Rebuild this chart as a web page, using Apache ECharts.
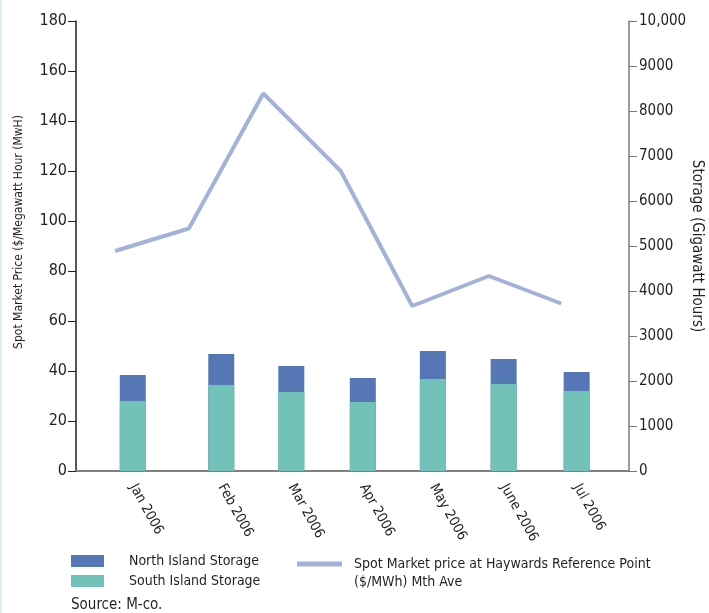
<!DOCTYPE html>
<html>
<head>
<meta charset="utf-8">
<script src="https://cdn.jsdelivr.net/npm/echarts@6/dist/echarts.min.js"></script>
<style>
  html, body { margin: 0; padding: 0; background: #fff; }
  #chart { width: 709px; height: 613px; }
</style>
</head>
<body>
<div id="chart"></div>
<script>
// months and where each sits along the (month-position) x axis
const months = ['Jan 2006', 'Feb 2006', 'Mar 2006', 'Apr 2006', 'May 2006', 'June 2006', 'Jul 2006'];
const barPos = [0.77, 1.97, 2.92, 3.89, 4.84, 5.80, 6.79];
const linePos = [0.53, 1.53, 2.54, 3.59, 4.56, 5.60, 6.58];

// storage, GWh (right axis)
const southStorage = [1556, 1911, 1756, 1533, 2044, 1933, 1778];
const northStorage = [577, 689, 577, 534, 623, 556, 422];

// spot price, $/MWh (left axis)
const spotPrice = [88, 97, 151, 120, 66, 78, 67];

const font = '"DejaVu Sans Condensed", "Liberation Sans Narrow", sans-serif';
const ink = '#231f20';

// bars on a value axis don't stack, so the north bar is drawn as the total
// and the south bar is laid over its lower part
const totalStorage = southStorage.map((s, i) => s + northStorage[i]);

let myChart = echarts.init(document.getElementById('chart'));
let option = {
    animation: false,
    textStyle: { fontFamily: font, color: ink },
    grid: { left: 76, right: 80, top: 21, bottom: 142, outerBoundsMode: 'none', containLabel: false },
    legend: [
        {
            orient: 'vertical',
            left: 66, top: 549,
            itemWidth: 33, itemHeight: 12, itemGap: 6,
            icon: 'rect',
            textStyle: { fontFamily: font, fontSize: 14, color: ink, padding: [0, 0, 0, 20] },
            data: ['North Island Storage', 'South Island Storage']
        },
        {
            left: 292, top: 552,
            itemWidth: 45, itemHeight: 5,
            icon: 'rect',
            textStyle: { fontFamily: font, fontSize: 14, color: ink, padding: [0, 0, 0, 7] },
            data: ['Spot Market price at Haywards Reference Point']
        }
    ],
    graphic: [
        { type: 'rect', left: 0, top: 0, shape: { width: 2, height: 613 }, style: { fill: '#dceef9' } },
        { type: 'text', left: 354, top: 575, style: { text: '($/MWh) Mth Ave', fontFamily: font, fontSize: 14, fill: ink } },
        { type: 'text', left: 71, top: 598, style: { text: 'Source: M-co.', fontFamily: font, fontSize: 15, fill: ink } }
    ],
    xAxis: {
        type: 'value',
        min: 0,
        max: 7.5,
        splitLine: { show: false },
        axisTick: { show: false },
        axisLine: { onZero: false, lineStyle: { color: '#808080', width: 2 } },
        axisLabel: {
            customValues: barPos,
            formatter: function (v) {
                let i = barPos.indexOf(v);
                return i >= 0 ? months[i] : '';
            },
            rotate: -61,
            margin: 14,
            fontSize: 14,
            color: ink,
            fontFamily: font
        }
    },
    yAxis: [
        {
            type: 'value',
            min: 0, max: 180, interval: 20,
            name: 'Spot Market Price ($/Megawatt Hour (MwH)',
            nameLocation: 'middle',
            nameGap: 51,
            nameRotate: 90,
            nameTextStyle: { fontFamily: font, fontSize: 12, color: ink, padding: [0, 0, 0, 28] },
            splitLine: { show: false },
            axisLine: { show: true, lineStyle: { color: ink, width: 1.5 } },
            axisTick: { show: true, length: 8, lineStyle: { color: ink } },
            axisLabel: { fontSize: 16, color: ink, margin: 9, fontFamily: font }
        },
        {
            type: 'value',
            position: 'right',
            min: 0, max: 10000, interval: 1000,
            name: 'Storage (Gigawatt Hours)',
            nameLocation: 'middle',
            nameGap: 60,
            nameMoveOverlap: false,
            nameRotate: -90,
            nameTextStyle: { fontFamily: font, fontSize: 15, color: ink },
            splitLine: { show: false },
            axisLine: { show: true, lineStyle: { color: '#7a7a7a', width: 1.5 } },
            axisTick: { show: true, length: 8, lineStyle: { color: '#7a7a7a' } },
            axisLabel: {
                fontSize: 15, color: ink, margin: 10, fontFamily: font,
                formatter: function (v) { return v === 10000 ? '10,000' : String(v); }
            }
        }
    ],
    series: [
        {
            name: 'North Island Storage',
            type: 'bar',
            yAxisIndex: 1,
            barWidth: 26,
            itemStyle: { color: '#5677b5' },
            data: barPos.map((x, i) => [x, totalStorage[i]])
        },
        {
            name: 'South Island Storage',
            type: 'bar',
            yAxisIndex: 1,
            barWidth: 26,
            barGap: '-100%',
            itemStyle: { color: '#72c2b9' },
            data: barPos.map((x, i) => [x, southStorage[i]])
        },
        {
            name: 'Spot Market price at Haywards Reference Point',
            type: 'line',
            yAxisIndex: 0,
            symbol: 'none',
            lineStyle: { color: '#a3b2d9', width: 4 },
            itemStyle: { color: '#a3b2d9' },
            data: linePos.map((x, i) => [x, spotPrice[i]])
        }
    ]
};
myChart.setOption(option);
window.addEventListener('resize', function () {
    myChart.resize();
});
</script>
</body>
</html>
